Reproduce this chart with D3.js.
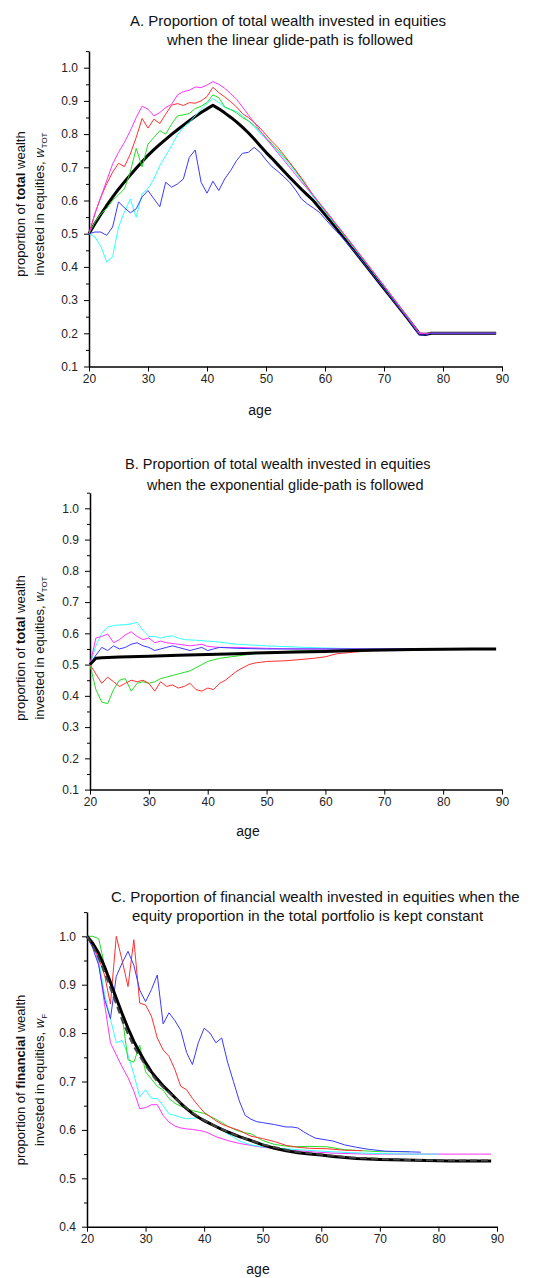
<!DOCTYPE html>
<html>
<head>
<meta charset="utf-8">
<script src="https://cdnjs.cloudflare.com/ajax/libs/d3/7.8.5/d3.min.js"></script>
<style>
  body { margin: 0; background: #fff; }
  svg text { font-family: "Liberation Sans", Arial, sans-serif; }
</style>
</head>
<body>
<div id="chart"></div>
<script>
// ---- data: [age, proportion] ----
var xTicks = [20, 30, 40, 50, 60, 70, 80, 90];
var yTicksAB = [0.1, 0.2, 0.3, 0.4, 0.5, 0.6, 0.7, 0.8, 0.9, 1.0];
var yTicksC = [0.4, 0.5, 0.6, 0.7, 0.8, 0.9, 1.0];

// A. linear glide-path
var aBlack = [[20,0.50],[21,0.53],[22,0.558],[23,0.585],[24,0.61],[25,0.634],[26,0.656],[27,0.677],[28,0.697],[29,0.717],[30,0.736],[31,0.753],[32,0.769],[33,0.784],[34,0.799],[35,0.813],[36,0.827],[37,0.84],[38,0.853],[39,0.865],[40,0.876],[41,0.887],[42,0.876],[43,0.864],[44,0.851],[45,0.837],[46,0.821],[47,0.804],[48,0.785],[49,0.765],[50,0.745],[51,0.727],[52,0.708],[53,0.689],[54,0.67],[55,0.652],[56,0.634],[57,0.617],[58,0.60],[60,0.558],[62,0.515],[64,0.47],[66,0.425],[68,0.38],[70,0.335],[72,0.29],[74,0.245],[76,0.198],[77,0.196],[78,0.20],[89,0.20]];
var aMagenta = [[20,0.50],[21,0.56],[22,0.61],[23,0.66],[24,0.71],[25,0.745],[26,0.775],[27,0.81],[28,0.85],[29,0.884],[30,0.875],[31,0.855],[32,0.865],[33,0.88],[34,0.89],[35,0.918],[36,0.928],[37,0.932],[38,0.942],[39,0.94],[40,0.948],[41,0.958],[42,0.95],[43,0.938],[44,0.922],[45,0.905],[46,0.882],[47,0.858],[48,0.835],[49,0.81],[50,0.787],[51,0.765],[52,0.743],[53,0.722],[54,0.70],[55,0.678],[56,0.656],[57,0.636],[58,0.616],[60,0.572],[62,0.527],[64,0.482],[66,0.436],[68,0.39],[70,0.344],[72,0.297],[74,0.25],[76,0.20],[89,0.20]];
var aRed = [[20,0.50],[21,0.56],[22,0.61],[23,0.65],[24,0.685],[25,0.712],[26,0.702],[27,0.74],[28,0.79],[29,0.847],[30,0.818],[31,0.845],[32,0.832],[33,0.86],[34,0.887],[35,0.892],[36,0.886],[37,0.895],[38,0.893],[39,0.90],[40,0.913],[41,0.941],[42,0.925],[43,0.912],[44,0.898],[45,0.882],[46,0.862],[47,0.85],[48,0.835],[49,0.818],[50,0.798],[51,0.778],[52,0.76],[53,0.738],[54,0.715],[55,0.692],[56,0.668],[57,0.642],[58,0.616],[60,0.571],[62,0.526],[64,0.481],[66,0.435],[68,0.389],[70,0.343],[72,0.296],[74,0.249],[76,0.20],[89,0.20]];
var aGreen = [[20,0.50],[21,0.535],[22,0.56],[23,0.576],[24,0.60],[25,0.617],[26,0.635],[27,0.686],[28,0.757],[29,0.701],[30,0.77],[31,0.79],[32,0.81],[33,0.80],[34,0.83],[35,0.855],[36,0.858],[37,0.862],[38,0.877],[39,0.884],[40,0.895],[41,0.918],[42,0.91],[43,0.882],[44,0.874],[45,0.864],[46,0.85],[47,0.84],[48,0.826],[49,0.808],[50,0.79],[51,0.77],[52,0.752],[53,0.733],[54,0.713],[55,0.69],[56,0.665],[57,0.64],[58,0.614],[60,0.569],[62,0.524],[64,0.479],[66,0.434],[68,0.388],[70,0.342],[72,0.295],[74,0.248],[76,0.20],[89,0.20]];
var aCyan = [[20,0.50],[21,0.49],[22,0.462],[23,0.415],[24,0.43],[25,0.52],[26,0.565],[27,0.605],[28,0.55],[29,0.62],[30,0.636],[31,0.665],[32,0.705],[33,0.735],[34,0.765],[35,0.798],[36,0.82],[37,0.835],[38,0.855],[39,0.875],[40,0.892],[41,0.907],[42,0.895],[43,0.88],[44,0.874],[45,0.868],[46,0.855],[47,0.84],[48,0.822],[49,0.802],[50,0.785],[51,0.767],[52,0.748],[53,0.728],[54,0.707],[55,0.685],[56,0.66],[57,0.635],[58,0.61],[60,0.566],[62,0.522],[64,0.477],[66,0.432],[68,0.387],[70,0.341],[72,0.294],[74,0.247],[76,0.20],[89,0.20]];
var aBlue = [[20,0.50],[21,0.505],[22,0.505],[23,0.495],[24,0.52],[25,0.596],[26,0.578],[27,0.563],[28,0.575],[29,0.611],[30,0.63],[31,0.605],[32,0.581],[33,0.655],[34,0.64],[35,0.65],[36,0.665],[37,0.73],[38,0.752],[39,0.655],[40,0.622],[41,0.658],[42,0.63],[43,0.665],[44,0.69],[45,0.72],[46,0.742],[47,0.745],[48,0.76],[49,0.745],[50,0.722],[51,0.702],[52,0.688],[53,0.672],[54,0.655],[55,0.632],[56,0.605],[57,0.59],[58,0.578],[59,0.565],[60,0.545],[61,0.525],[62,0.506],[63,0.487],[64,0.466],[65,0.446],[66,0.424],[68,0.379],[70,0.334],[72,0.289],[74,0.244],[76,0.195],[77,0.195],[78,0.20],[89,0.20]];

// B. exponential glide-path
var bBlack = [[20,0.50],[21,0.52],[22,0.522],[25,0.524],[30,0.527],[35,0.53],[40,0.532],[45,0.535],[50,0.538],[55,0.54],[60,0.542],[65,0.545],[70,0.547],[75,0.548],[80,0.549],[85,0.55],[89,0.55]];
var bMagenta = [[20,0.50],[21,0.585],[22,0.59],[23,0.598],[24,0.57],[25,0.58],[26,0.595],[27,0.605],[28,0.59],[29,0.58],[30,0.585],[31,0.57],[32,0.575],[33,0.57],[35,0.565],[37,0.56],[39,0.565],[40,0.558],[42,0.555],[45,0.555],[50,0.552],[55,0.55],[89,0.55]];
var bCyan = [[20,0.50],[21,0.56],[22,0.60],[23,0.62],[24,0.625],[25,0.627],[26,0.628],[27,0.63],[28,0.635],[29,0.61],[30,0.59],[31,0.59],[32,0.585],[33,0.59],[34,0.592],[35,0.585],[36,0.58],[38,0.578],[40,0.575],[42,0.572],[45,0.565],[48,0.562],[50,0.56],[55,0.556],[60,0.553],[65,0.551],[70,0.55],[80,0.55]];
var bBlue = [[20,0.50],[21,0.53],[22,0.555],[23,0.545],[24,0.56],[25,0.55],[26,0.555],[27,0.565],[28,0.57],[29,0.56],[30,0.555],[31,0.545],[32,0.55],[33,0.555],[34,0.56],[35,0.555],[36,0.55],[37,0.545],[38,0.55],[39,0.555],[40,0.545],[41,0.55],[42,0.555],[45,0.552],[50,0.55],[60,0.55],[70,0.55],[78,0.55]];
var bGreen = [[20,0.50],[21,0.42],[22,0.38],[23,0.375],[24,0.42],[25,0.45],[26,0.455],[27,0.415],[28,0.44],[29,0.445],[30,0.44],[31,0.445],[32,0.455],[33,0.46],[34,0.465],[35,0.47],[36,0.475],[37,0.48],[38,0.49],[39,0.50],[40,0.51],[42,0.52],[44,0.525],[46,0.53],[48,0.535],[50,0.54],[55,0.543],[60,0.546],[65,0.548],[70,0.55],[75,0.55]];
var bRed = [[20,0.50],[21,0.47],[22,0.44],[23,0.46],[24,0.445],[25,0.43],[26,0.44],[27,0.45],[28,0.445],[29,0.45],[30,0.44],[31,0.415],[32,0.445],[33,0.43],[34,0.435],[35,0.425],[36,0.43],[37,0.44],[38,0.42],[39,0.415],[40,0.425],[41,0.42],[42,0.44],[43,0.45],[44,0.465],[45,0.48],[46,0.49],[47,0.50],[48,0.505],[50,0.51],[53,0.512],[55,0.515],[58,0.52],[60,0.525],[62,0.535],[65,0.54],[68,0.545],[72,0.548]];

// C. constant equity proportion in total portfolio
var cBlack = [[20,1.0],[21,0.985],[22,0.965],[23,0.937],[24,0.905],[25,0.872],[26,0.84],[27,0.81],[28,0.783],[29,0.76],[30,0.739],[31,0.72],[32,0.705],[33,0.691],[34,0.679],[35,0.667],[36,0.655],[37,0.644],[38,0.634],[39,0.626],[40,0.619],[41,0.613],[42,0.607],[43,0.601],[44,0.596],[45,0.591],[46,0.586],[47,0.582],[48,0.578],[50,0.569],[52,0.562],[54,0.557],[56,0.553],[58,0.55],[60,0.548],[62,0.545],[64,0.543],[66,0.541],[68,0.54],[70,0.539],[74,0.538],[78,0.537],[82,0.536],[86,0.536],[89,0.536]];
var cDashed = [[20,1.0],[21,0.98],[22,0.955],[23,0.925],[24,0.893],[25,0.86],[26,0.826],[27,0.798],[28,0.772],[29,0.752],[30,0.733],[31,0.716],[32,0.70],[33,0.688],[34,0.677],[35,0.666],[36,0.655],[38,0.635],[40,0.62],[42,0.607],[44,0.596],[46,0.586],[48,0.578],[50,0.57],[55,0.556],[60,0.549],[65,0.543],[70,0.54],[75,0.538],[80,0.537],[85,0.537],[89,0.537]];
var cMagenta = [[20,1.0],[21,0.985],[22,0.945],[23,0.86],[24,0.78],[25,0.755],[26,0.73],[27,0.708],[28,0.68],[29,0.644],[30,0.646],[31,0.652],[32,0.652],[33,0.63],[34,0.616],[35,0.608],[36,0.604],[37,0.602],[38,0.601],[39,0.599],[40,0.597],[41,0.592],[42,0.586],[44,0.578],[46,0.572],[48,0.568],[50,0.564],[52,0.562],[55,0.558],[58,0.555],[62,0.552],[68,0.55],[89,0.55]];
var cCyan = [[20,1.0],[21,0.985],[22,0.95],[23,0.88],[24,0.83],[25,0.78],[26,0.785],[27,0.755],[28,0.715],[29,0.668],[30,0.683],[31,0.665],[32,0.665],[33,0.65],[34,0.633],[35,0.63],[36,0.626],[37,0.623],[38,0.624],[39,0.625],[40,0.622],[41,0.615],[42,0.606],[43,0.60],[44,0.592],[45,0.585],[46,0.577],[48,0.569],[50,0.565],[55,0.56],[60,0.556],[65,0.553],[70,0.551],[75,0.55],[80,0.55]];
var cGreen = [[20,1.0],[21,1.0],[22,0.995],[23,0.94],[24,0.905],[25,0.875],[26,0.835],[27,0.745],[28,0.74],[29,0.775],[30,0.72],[31,0.705],[32,0.69],[33,0.682],[34,0.665],[35,0.655],[36,0.649],[37,0.644],[38,0.64],[39,0.637],[40,0.634],[41,0.628],[42,0.622],[43,0.615],[44,0.608],[45,0.602],[46,0.597],[47,0.594],[48,0.592],[49,0.585],[50,0.578],[52,0.57],[55,0.565],[58,0.566],[61,0.565],[64,0.559],[67,0.557],[70,0.555],[75,0.555]];
var cRed = [[20,1.0],[21,0.98],[22,0.955],[23,0.92],[24,0.86],[25,1.0],[26,0.95],[27,0.896],[28,0.993],[29,0.862],[30,0.858],[31,0.835],[32,0.79],[33,0.765],[34,0.752],[35,0.725],[36,0.69],[37,0.683],[38,0.665],[39,0.65],[40,0.636],[41,0.628],[42,0.619],[43,0.612],[44,0.607],[45,0.603],[46,0.599],[48,0.587],[50,0.582],[52,0.576],[54,0.568],[56,0.564],[58,0.562],[61,0.561],[64,0.558],[67,0.557]];
var cBlue = [[20,1.0],[21,0.975],[22,0.94],[23,0.87],[24,0.83],[25,0.917],[26,0.945],[27,0.969],[28,0.94],[29,0.889],[30,0.865],[31,0.89],[32,0.92],[33,0.819],[34,0.842],[35,0.826],[36,0.806],[37,0.76],[38,0.735],[39,0.78],[40,0.81],[41,0.80],[42,0.78],[43,0.79],[44,0.74],[45,0.70],[46,0.66],[47,0.63],[48,0.622],[49,0.617],[50,0.615],[52,0.611],[54,0.606],[55,0.606],[56,0.604],[57,0.596],[58,0.589],[59,0.583],[61,0.579],[62,0.577],[64,0.569],[66,0.564],[68,0.56],[71,0.556],[77,0.554]];

var colorMagenta = "#ff33ff", colorRed = "#ff3030", colorGreen = "#22dd22",
    colorCyan = "#33ffff", colorBlue = "#3a3aff";

var svg = d3.select("#chart")
  .append("svg")
  .attr("width", 543)
  .attr("height", 1278);

// one panel = scales, axes, lines, texts
function drawPanel(p) {
  var x = d3.scaleLinear().domain([20, 90]).range(p.xRange);
  var y = d3.scaleLinear().domain([p.yMin, 1.05]).range(p.yRange);

  var g = svg.append("g");

  // minor y ticks
  g.append("g")
    .attr("transform", `translate(${p.xRange[0]},0)`)
    .call(d3.axisLeft(y).tickValues(p.yMinor).tickSize(3).tickSizeOuter(0).tickFormat(""))
    .call(a => a.select(".domain").remove());

  var yAxis = g.append("g")
    .attr("transform", `translate(${p.xRange[0]},0)`)
    .call(d3.axisLeft(y).tickValues(p.yTicks).tickSize(5).tickSizeOuter(0).tickPadding(6).tickFormat(d3.format(".1f")));

  var xAxis = g.append("g")
    .attr("transform", `translate(0,${y(p.yMin)})`)
    .call(d3.axisBottom(x).tickValues(xTicks).tickSize(5).tickSizeOuter(0).tickPadding(3));

  [yAxis, xAxis].forEach(function(a) {
    a.selectAll("text").attr("font-size", 12).attr("fill", "#222")
      .attr("font-family", "Liberation Sans, Arial, sans-serif");
    a.select(".domain").attr("stroke-width", 1.5);
  });
  g.selectAll(".tick line").attr("stroke", "#000");

  var line = d3.line().x(d => x(d[0])).y(d => y(d[1]));

  p.series.forEach(function(s) {
    g.append("path")
      .datum(s.data)
      .attr("fill", "none")
      .attr("stroke", s.color)
      .attr("stroke-width", s.width || 1)
      .attr("stroke-dasharray", s.dash || null)
      .attr("stroke-linejoin", "round")
      .attr("d", line);
  });

  // title lines
  p.title.forEach(function(t) {
    g.append("text")
      .attr("x", t.x).attr("y", t.y)
      .attr("font-size", p.titleSize).attr("fill", "#111")
      .text(t.text);
  });

  // x label
  g.append("text")
    .attr("x", p.ageX).attr("y", p.ageY)
    .attr("text-anchor", "middle")
    .attr("font-size", 14).attr("fill", "#111")
    .text("age");

  // y label, two rotated lines
  var l1 = g.append("text")
    .attr("transform", `translate(25,${p.labelY}) rotate(-90)`)
    .attr("text-anchor", "middle")
    .attr("font-size", 13).attr("fill", "#111");
  l1.append("tspan").text("proportion of ");
  l1.append("tspan").attr("font-weight", "bold").text(p.boldWord);
  l1.append("tspan").text(" wealth");

  var l2 = g.append("text")
    .attr("transform", `translate(44,${p.labelY}) rotate(-90)`)
    .attr("text-anchor", "middle")
    .attr("font-size", 13).attr("fill", "#111");
  l2.append("tspan").text("invested in equities, ");
  l2.append("tspan").attr("font-style", "italic").text("w");
  l2.append("tspan").attr("font-size", 8).attr("dy", 3).text(p.sub);
}

drawPanel({
  xRange: [89, 502], yRange: [366.5, 51.1], yMin: 0.1,
  yTicks: yTicksAB, yMinor: d3.range(3, 22, 2).map(d => d / 20),
  series: [
    {data: aBlack, color: "#000", width: 3},
    {data: aCyan, color: colorCyan},
    {data: aGreen, color: colorGreen},
    {data: aRed, color: colorRed},
    {data: aMagenta, color: colorMagenta},
    {data: aBlue, color: colorBlue}
  ],
  titleSize: 15,
  title: [
    {x: 130, y: 26, text: "A. Proportion of total wealth invested in equities"},
    {x: 167, y: 45, text: "when the linear glide-path is followed"}
  ],
  ageX: 260, ageY: 415, labelY: 204, boldWord: "total", sub: "TOT"
});

drawPanel({
  xRange: [90, 502], yRange: [789.6, 492.7], yMin: 0.1,
  yTicks: yTicksAB, yMinor: d3.range(3, 22, 2).map(d => d / 20),
  series: [
    {data: bCyan, color: colorCyan},
    {data: bGreen, color: colorGreen},
    {data: bRed, color: colorRed},
    {data: bMagenta, color: colorMagenta},
    {data: bBlue, color: colorBlue},
    {data: bBlack, color: "#000", width: 3}
  ],
  titleSize: 14.5,
  title: [
    {x: 125, y: 469, text: "B. Proportion of total wealth invested in equities"},
    {x: 147, y: 490, text: "when the exponential glide-path is followed"}
  ],
  ageX: 248, ageY: 836, labelY: 648, boldWord: "total", sub: "TOT"
});

drawPanel({
  xRange: [87, 497], yRange: [1226.7, 912.1], yMin: 0.4,
  yTicks: yTicksC, yMinor: d3.range(9, 22, 2).map(d => d / 20),
  series: [
    {data: cMagenta, color: colorMagenta},
    {data: cCyan, color: colorCyan},
    {data: cGreen, color: colorGreen},
    {data: cRed, color: colorRed},
    {data: cBlue, color: colorBlue},
    {data: cBlack, color: "#000", width: 3},
    {data: cDashed, color: "#444", width: 2, dash: "7,4"}
  ],
  titleSize: 15,
  title: [
    {x: 111, y: 902, text: "C. Proportion of financial wealth invested in equities when the"},
    {x: 132, y: 921, text: "equity proportion in the total portfolio is kept constant"}
  ],
  ageX: 258, ageY: 1274, labelY: 1080, boldWord: "financial", sub: "F"
});
</script>
</body>
</html>
